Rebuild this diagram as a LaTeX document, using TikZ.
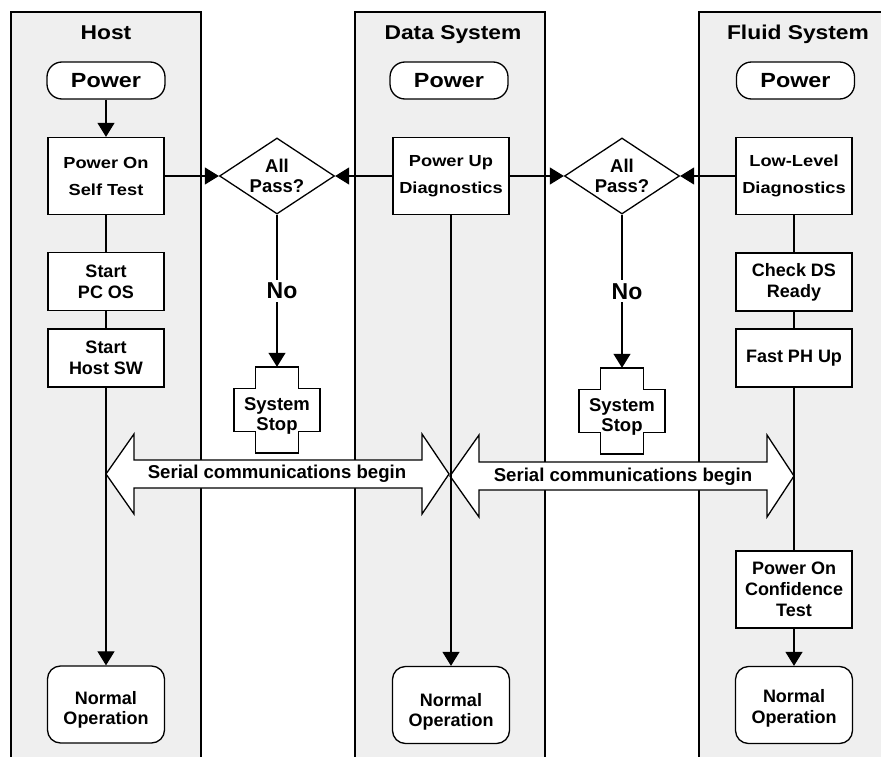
\documentclass[tikz,border=0pt]{standalone}
\usepackage{fontspec}
\setmainfont{Liberation Sans}
\newfontfamily\widesans{Liberation Sans}[FakeStretch=1.14]
\usetikzlibrary{arrows.meta,shapes.geometric}
\definecolor{lanegray}{RGB}{239,239,239}

\begin{document}
\begin{tikzpicture}[x=1pt,y=-1pt,
  lane/.style={draw=black, fill=lanegray, line width=1.1pt},
  lanetitle/.style={anchor=base, inner sep=0pt, font=\widesans\bfseries\fontsize{20}{24}\selectfont},
  term/.style={draw, fill=white, rounded corners=15pt, minimum width=118pt, minimum height=37pt,
    inner sep=0pt, line width=1.3pt, font=\widesans\bfseries\fontsize{20.5}{24}\selectfont},
  procwide/.style={draw, fill=white, minimum width=116pt, minimum height=77pt, inner sep=0pt,
    line width=1.3pt, align=center, font=\widesans\bfseries\fontsize{16}{27}\selectfont},
  proc/.style={draw, fill=white, minimum width=116pt, minimum height=58pt, inner sep=0pt,
    line width=1.3pt, align=center, font=\bfseries\fontsize{18}{21}\selectfont},
  tallproc/.style={proc, minimum height=77pt},
  endbox/.style={draw, fill=white, rounded corners=13pt, minimum width=117pt, minimum height=77pt,
    inner sep=0pt, line width=1.3pt, align=center, font=\bfseries\fontsize{18}{20.5}\selectfont,
    text depth=4pt, text height=#1},
  endbox/.default=44pt,
  decision/.style={diamond, draw, fill=white, aspect=1.5, minimum width=115pt, minimum height=76pt,
    inner sep=0pt, line width=1.3pt, align=center, font=\bfseries\fontsize{18.5}{20}\selectfont},
  stoptext/.style={minimum width=86pt, minimum height=86pt, inner sep=0pt, align=center,
    font=\bfseries\fontsize{18.5}{20}\selectfont, text depth=4pt, text height=44pt},
  plusline/.style={line width=1.3pt},
  flow/.style={line width=1.2pt, -{Triangle[length=14pt,width=17pt]}},
  link/.style={line width=1.2pt},
  nolabel/.style={fill=white, inner sep=3pt, xshift=5pt, font=\bfseries\fontsize{23}{26}\selectfont},
  serialshape/.style={draw, fill=white, line width=1.3pt, line join=miter},
  serialtext/.style={inner sep=0pt, font=\bfseries\fontsize{18.6}{22}\selectfont}
]
\useasboundingbox (0,0) rectangle (881,757);
\clip (0,0) rectangle (881,757);

% swim lanes
\draw[lane] (11,12) rectangle (201,780);
\draw[lane] (355,12) rectangle (545,780);
\draw[lane] (699,12) rectangle (910,780);

\node[lanetitle] (hostT) at (106,39.5) {Host};
\node[lanetitle] (dataT) at (453,39.5) {Data System};
\node[lanetitle] (fluidT) at (798,39.5) {Fluid System};

% broadcast arrows
\draw[serialshape] (106,474) -- (134,434) -- (134,460) -- (422,460) -- (422,434) -- (449,474)
  -- (422,514) -- (422,488) -- (134,488) -- (134,514) -- cycle;
\draw[serialshape] (450,476) -- (479,435) -- (479,462) -- (767,462) -- (767,435) -- (794,476)
  -- (767,517) -- (767,490) -- (479,490) -- (479,517) -- cycle;
\node[serialtext] (ser1) at (277,474) {Serial communications begin};
\node[serialtext] (ser2) at (623,476.5) {Serial communications begin};

% host lane
\node[term] (hostpow) at (106,80.5) {Power};
\node[procwide] (post) at (106,176) {Power On\\Self Test};
\node[proc] (pcos) at (106,281.5) {Start\\PC OS};
\node[proc] (hostsw) at (106,358) {Start\\Host SW};
\node[endbox=44pt] (hostend) at (106,704.5) {Normal\\Operation};

% data system lane
\node[term] (datapow) at (449,80.5) {Power};
\node[procwide] (pud) at (451,176) {Power Up\\Diagnostics};
\node[endbox=47pt] (dataend) at (451,705) {Normal\\Operation};

% fluid system lane
\node[term] (fluidpow) at (795.5,80.5) {Power};
\node[procwide] (lld) at (794,176) {Low-Level\\Diagnostics};
\node[proc] (chk) at (794,282) {Check DS\\Ready};
\node[proc] (fast) at (794,358) {Fast PH Up};
\node[tallproc] (conf) at (794,589.5) {Power On\\Confidence\\Test};
\node[endbox=40pt] (fluidend) at (794,705) {Normal\\Operation};

% decisions and stops
\node[decision] (d1) at (277,176) {All\\Pass?};
\node[decision] (d2) at (622,176) {All\\Pass?};
\node[stoptext] (stop1) at (277,410) {System\\Stop};
\node[stoptext] (stop2) at (622,411) {System\\Stop};
\foreach \s in {stop1,stop2}{
  \draw[plusline] (\s.center) ++(-21.5,-43) -- ++(43,0) -- ++(0,21.5) -- ++(21.5,0) -- ++(0,43)
    -- ++(-21.5,0) -- ++(0,21.5) -- ++(-43,0) -- ++(0,-21.5) -- ++(-21.5,0) -- ++(0,-43)
    -- ++(21.5,0) -- cycle;
}

% connectors
\draw[flow] (hostpow) -- (post);
\draw[link] (post) -- (pcos);
\draw[link] (pcos) -- (hostsw);
\draw[flow] (hostsw) -- (hostend);
\draw[flow] (post) -- (d1);
\draw[flow] (pud) -- (d1);
\draw[flow] (pud) -- (d2);
\draw[flow] (lld) -- (d2);
\draw[flow] (d1) -- node[nolabel] {No} (stop1);
\draw[flow] (d2) -- node[nolabel] {No} (stop2);
\draw[flow] (pud) -- (dataend);
\draw[link] (lld) -- (chk);
\draw[link] (chk) -- (fast);
\draw[link] (fast) -- (conf);
\draw[flow] (conf) -- (fluidend);
\end{tikzpicture}
\end{document}
